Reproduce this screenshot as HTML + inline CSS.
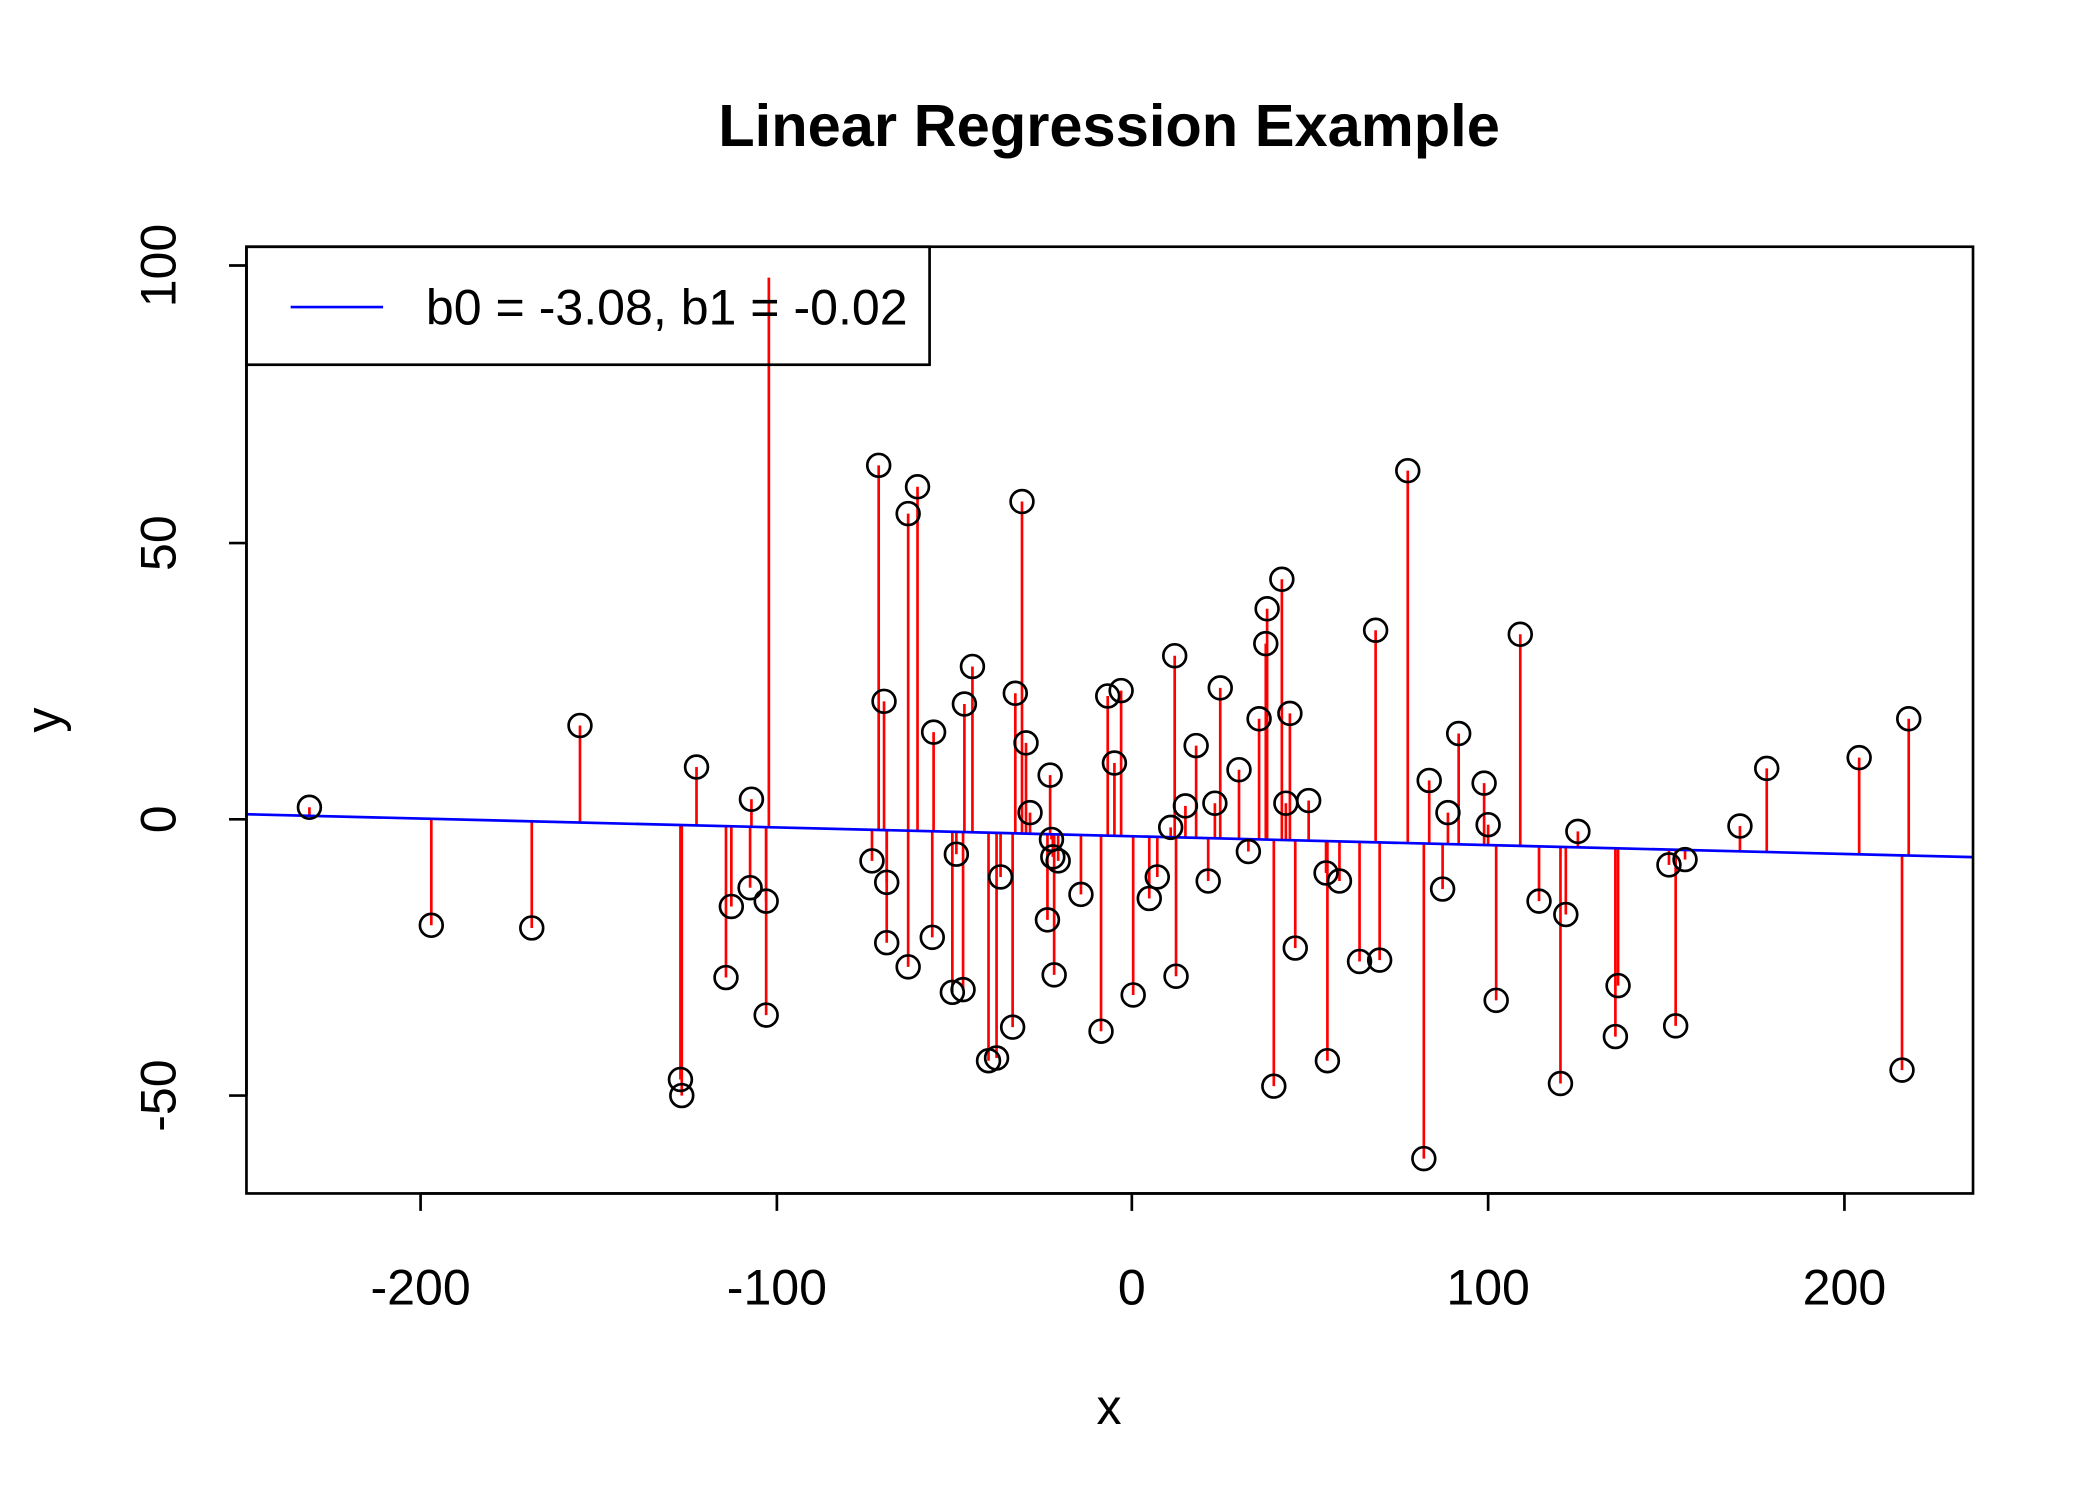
<!DOCTYPE html>
<html><head><meta charset="utf-8"><style>html,body{margin:0;padding:0;background:#fff}svg{display:block}</style></head>
<body>
<svg id="s" width="2100" height="1500" viewBox="0 0 1567.8 1118.6" preserveAspectRatio="none" xmlns="http://www.w3.org/2000/svg" font-family="Liberation Sans, Arial, sans-serif">
<text x="828" y="109" font-size="44.5" font-weight="bold" text-anchor="middle">Linear Regression Example</text>
<g id="res" stroke="#ff0000" stroke-width="2"></g>
<line x1="574" y1="207" x2="574" y2="617" stroke="#ff0000" stroke-width="2"/>
<line x1="184" y1="607.2" x2="1473" y2="639.2" stroke="#0000ff" stroke-width="2"/>
<g id="pts" fill="none" stroke="#000" stroke-width="2"></g>
<rect x="184" y="184" width="1289" height="706" fill="none" stroke="#000" stroke-width="2"/>
<rect x="184" y="184" width="510" height="88" fill="none" stroke="#000" stroke-width="2"/>
<line x1="217" y1="229" x2="286" y2="229" stroke="#0000ff" stroke-width="2"/>
<text x="318" y="242" font-size="37.4">b0 = -3.08, b1 = -0.02</text>
<g stroke="#000" stroke-width="2">
<line x1="314" y1="890" x2="1377" y2="890"/>
<line x1="314" y1="890" x2="314" y2="903"/><line x1="580" y1="890" x2="580" y2="903"/><line x1="845" y1="890" x2="845" y2="903"/><line x1="1111" y1="890" x2="1111" y2="903"/><line x1="1377" y1="890" x2="1377" y2="903"/>
<line x1="184" y1="198" x2="184" y2="817"/>
<line x1="184" y1="198" x2="171" y2="198"/><line x1="184" y1="405" x2="171" y2="405"/><line x1="184" y1="611" x2="171" y2="611"/><line x1="184" y1="817" x2="171" y2="817"/>
</g>
<g font-size="37.4" text-anchor="middle">
<text x="314" y="973">-200</text><text x="580" y="973">-100</text><text x="845" y="973">0</text><text x="1111" y="973">100</text><text x="1377" y="973">200</text>
<text transform="translate(131,198) rotate(-90)">100</text>
<text transform="translate(131,405) rotate(-90)">50</text>
<text transform="translate(131,611) rotate(-90)">0</text>
<text transform="translate(131,817) rotate(-90)">-50</text>
<text x="828" y="1062">x</text>
<text transform="translate(45,537) rotate(-90)">y</text>
</g>
<script>
var P=[[231,602],[322,690],[397,692],[433,541],[508,805],[509,817],[520,572],[542,729],[546,676],[560,662],[561,596],[572,672],[572,757],[651,642],[656,347],[660,523],[662,658],[662,703],[678,721],[678,383],[685,363],[696,699],[697,546],[711,740],[714,637],[719,738],[720,525],[726,497],[738,791],[744,789],[747,654],[756,766],[758,517],[763,374],[766,554],[769,606],[782,686],[784,578],[785,626],[786,639],[787,727],[790,642],[807,667],[822,769],[827,519],[832,569],[837,515],[846,742],[858,670],[864,654],[874,617],[877,489],[878,728],[885,601],[893,556],[902,657],[907,599],[911,513],[925,574],[932,635],[940,536],[945,480],[946,454],[951,810],[957,432],[960,599],[963,532],[967,707],[977,597],[990,651],[991,791],[1000,657],[1015,717],[1030,716],[1027,470],[1051,351],[1063,864],[1067,582],[1077,663],[1081,606],[1089,547],[1108,584],[1111,615],[1117,746],[1135,473],[1149,672],[1165,808],[1169,682],[1178,620],[1206,773],[1208,735],[1246,645],[1251,765],[1258,641],[1299,616],[1319,573],[1388,565],[1420,798],[1425,536]];
var ns="http://www.w3.org/2000/svg",r=document.getElementById('res'),p=document.getElementById('pts');
P.forEach(function(a){var x=a[0],y=a[1],ly=607.2+(x-184)*32/1289;
var l=document.createElementNS(ns,'line');l.setAttribute('x1',x);l.setAttribute('x2',x);l.setAttribute('y1',y);l.setAttribute('y2',ly);r.appendChild(l);
var c=document.createElementNS(ns,'circle');c.setAttribute('cx',x);c.setAttribute('cy',y);c.setAttribute('r',8.5);p.appendChild(c);});
</script>
</svg>
</body></html>
